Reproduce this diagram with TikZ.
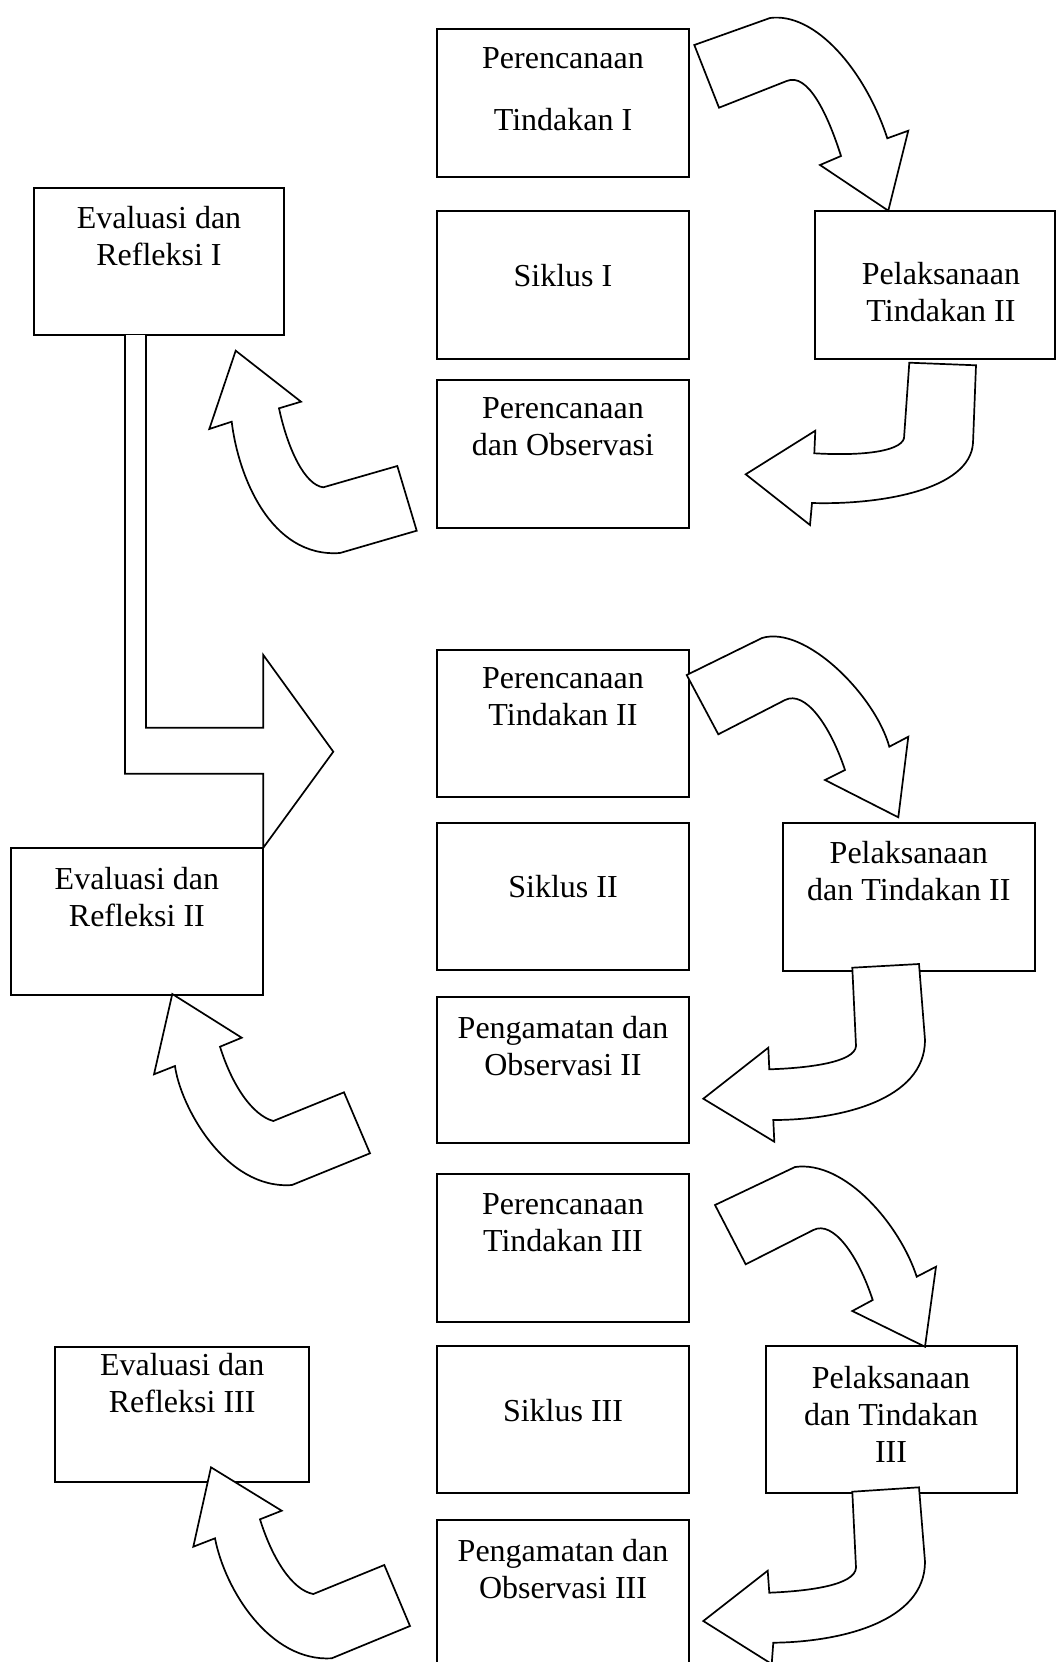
\documentclass[tikz,border=0pt]{standalone}
\usepackage{fontspec}
\setmainfont{Liberation Serif}
\begin{document}
\begin{tikzpicture}[x=1pt,y=-1pt,
  box/.style={draw=black, line width=2pt, fill=white, inner sep=0pt, outer sep=0pt},
  txt/.style={font=\fontsize{32}{37}\selectfont, align=center, anchor=north, inner sep=0pt},
  blockarrow/.style={draw=black, line width=1.7pt, fill=white, line join=miter}]
\useasboundingbox (0,0) rectangle (1056,1662);
\fill[white] (0,0) rectangle (1056,1662);

% ---------- boxes ----------
\node[box, minimum width=252pt, minimum height=147.5pt] (b1) at (563,103.25) {};
\node[box, minimum width=250pt, minimum height=147pt] (e1) at (159,261.5) {};
\node[box, minimum width=252pt, minimum height=148.3pt] (s1) at (563,285.15) {};
\node[box, minimum width=239.5pt, minimum height=148.3pt] (p1) at (934.75,285.15) {};
\node[box, minimum width=252pt, minimum height=147.5pt] (o1) at (563,453.75) {};

\node[box, minimum width=252pt, minimum height=147.5pt] (b2) at (563,723.25) {};
\node[box, minimum width=252pt, minimum height=147pt] (s2) at (563,896.5) {};
\node[box, minimum width=252.3pt, minimum height=147pt] (e2) at (136.85,921.5) {};
\node[box, minimum width=252.3pt, minimum height=147.7pt] (p2) at (908.85,896.85) {};
\node[box, minimum width=252pt, minimum height=146.6pt] (o2) at (563,1070) {};

\node[box, minimum width=252pt, minimum height=148.1pt] (b3) at (563,1247.65) {};
\node[box, minimum width=254.3pt, minimum height=135.2pt] (e3) at (182.15,1414.1) {};
\node[box, minimum width=252pt, minimum height=147.3pt] (s3) at (563,1419.65) {};
\node[box, minimum width=251.6pt, minimum height=147.3pt] (p3) at (891.5,1419.65) {};
\node[box, minimum width=252pt, minimum height=160pt] (o3) at (563,1600) {};

% ---------- texts ----------
\node[txt] (b1t) at (563,47.3) {Perencanaan\\[25pt]Tindakan I};
\node[txt] (e1t) at (159,206.3) {Evaluasi dan\\Refleksi I};
\node[txt] (s1t) at (563,263.6) {Siklus I};
\node[txt] (p1t) at (941,262.5) {Pelaksanaan\\Tindakan II};
\node[txt] (o1t) at (563,397.2) {Perencanaan\\dan Observasi};

\node[txt] (b2t) at (563,667.5) {Perencanaan\\Tindakan II};
\node[txt] (s2t) at (563,875.3) {Siklus II};
\node[txt] (e2t) at (136.9,866.8) {Evaluasi dan\\Refleksi II};
\node[txt] (p2t) at (908.8,841.4) {Pelaksanaan\\dan Tindakan II};
\node[txt] (o2t) at (563,1016.3) {Pengamatan dan\\Observasi II};

\node[txt] (b3t) at (563,1193.4) {Perencanaan\\Tindakan III};
\node[txt] (e3t) at (182.2,1353.5) {Evaluasi dan\\Refleksi III};
\node[txt] (s3t) at (563,1399) {Siklus III};
\node[txt] (p3t) at (891,1365.7) {Pelaksanaan\\dan Tindakan\\III};
\node[txt] (o3t) at (563,1539) {Pengamatan dan\\Observasi III};

% ---------- L-shaped block arrow (Refleksi I -> Siklus II) ----------
\draw[blockarrow] (146,0 |- e1.south) -- (146,727.7) -- (263.3,727.7) -- (263.3,655)
  -- (333.3,751.7) -- (263.3,847.7) -- (263.3,773.7) -- (125,773.7) -- (125,0 |- e1.south);

% ---------- curved arrows: down-right ----------
\draw[blockarrow] (694.3,45) -- (719,107.7) -- (786.7,81)
  .. controls (808,72) and (828,115) .. (841,156) -- (820,165) -- (888.3,210.7)
  -- (908.3,130.7) -- (887.3,138.3) .. controls (865,70) and (815,12) .. (770,18) -- cycle;

\draw[blockarrow] (686.7,675) -- (718.3,734.3) -- (785,700)
  .. controls (805,690) and (830,725) .. (845,770) -- (825,780) -- (898.3,817.3)
  -- (908.3,736.7) -- (889.3,746.7) .. controls (875,695) and (805,625) .. (762,638) -- cycle;

\draw[blockarrow] (715,1205) -- (745.7,1264.3) -- (813.3,1230)
  .. controls (833,1220) and (858,1255) .. (872.7,1300) -- (852.3,1311) -- (925,1346.7)
  -- (936,1266.7) -- (916.7,1276.7) .. controls (900,1225) and (845,1160) .. (795,1167) -- cycle;

% ---------- curved arrows: down-left ----------
\draw[blockarrow] (909.3,362.7) -- (976,365.3) -- (973,443)
  .. controls (970,490) and (880,505) .. (812,503) -- (810,525) -- (745.7,474.3)
  -- (815.3,430.7) -- (814.3,453.3) .. controls (860,456) and (900,452) .. (904,438.3) -- cycle;

\draw[blockarrow] (852.3,967.7) -- (919,964) -- (925,1040)
  .. controls (925,1100) and (840,1120) .. (773.3,1120) -- (774.3,1141.7) -- (703.3,1098.7)
  -- (768.3,1047.7) -- (769.3,1069.3) .. controls (810,1068) and (855,1062) .. (856,1046) -- cycle;

\draw[blockarrow] (852.3,1491.7) -- (919,1487.3) -- (925,1561.7)
  .. controls (925,1622) and (840,1642) .. (773.3,1642.7) -- (771.7,1664) -- (703.3,1621)
  -- (767.7,1570.7) -- (769.3,1592.7) .. controls (810,1591) and (855,1585) .. (856,1567.7) -- cycle;

% ---------- curved arrows: up-left ----------
\draw[blockarrow] (235.7,350.7) -- (301,401.7) -- (279,408.3)
  .. controls (288,450) and (305,485) .. (323.3,487.3) -- (397.3,466) -- (416.7,530.7)
  -- (340,553) .. controls (270,558) and (238,475) .. (231.7,421.7) -- (209.3,429) -- cycle;

\draw[blockarrow] (172.3,994) -- (241.7,1037.7) -- (220,1046.7)
  .. controls (232,1085) and (252,1115) .. (273.3,1121) -- (344,1092.3) -- (370,1153.3)
  -- (292,1185) .. controls (225,1190) and (180,1105) .. (175,1066) -- (154,1074.3) -- cycle;

\draw[blockarrow] (211,1467.3) -- (281.7,1510.7) -- (260,1519.3)
  .. controls (272,1558) and (292,1590) .. (313.3,1594) -- (384.3,1565) -- (410,1626)
  -- (331.7,1658.3) .. controls (270,1662) and (225,1590) .. (215,1538.3) -- (193.3,1546.7) -- cycle;
\end{tikzpicture}
\end{document}
